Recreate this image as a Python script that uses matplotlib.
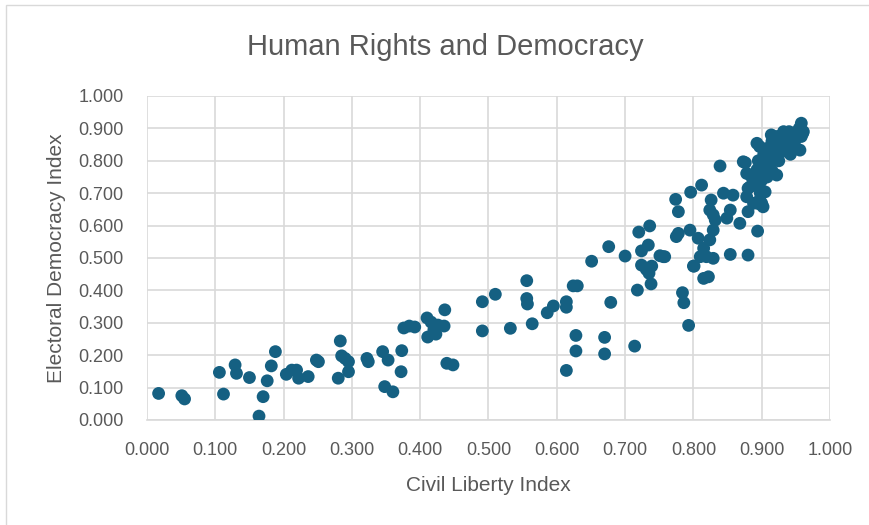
import matplotlib
matplotlib.use("Agg")
import matplotlib.pyplot as plt
from matplotlib.patches import Rectangle

# Civil liberty (x) vs electoral democracy (y)
civil_liberty = [
    0.017, 0.051, 0.055, 0.106, 0.112, 0.129, 0.131, 0.150, 0.164, 0.170,
    0.176, 0.182, 0.188, 0.204, 0.212, 0.219, 0.222, 0.236, 0.248, 0.251,
    0.283, 0.285, 0.290, 0.295, 0.295, 0.280, 0.322, 0.324, 0.345, 0.353,
    0.373, 0.372, 0.348, 0.360, 0.439, 0.448,
    0.376, 0.384, 0.392, 0.410, 0.416, 0.411, 0.420, 0.423, 0.426, 0.435, 0.436,
    0.491, 0.510, 0.491, 0.532, 0.556, 0.556, 0.557, 0.564, 0.586, 0.595,
    0.614, 0.614, 0.624, 0.630, 0.628, 0.628, 0.614, 0.670, 0.670, 0.651,
    0.676, 0.679, 0.700, 0.714, 0.718, 0.720, 0.734, 0.724, 0.736,
    0.724, 0.731, 0.739, 0.735, 0.738, 0.751, 0.758, 0.756,
    0.775, 0.784, 0.786, 0.793, 0.801, 0.815, 0.822,
    0.778, 0.795, 0.807, 0.824, 0.829, 0.815, 0.810, 0.819, 0.829, 0.800,
    0.854, 0.880, 0.894,
    0.774, 0.778, 0.796, 0.812, 0.839, 0.876, 0.826, 0.844, 0.858,
    0.824, 0.832, 0.829, 0.854, 0.849, 0.868, 0.880,
    0.878, 0.883, 0.885, 0.878, 0.893, 0.897, 0.900, 0.888, 0.873, 0.880,
    0.902, 0.897, 0.922,
    0.958, 0.961, 0.956, 0.932, 0.914, 0.893, 0.897,
    0.895, 0.900, 0.905, 0.900, 0.910, 0.912, 0.905, 0.918, 0.920, 0.925,
    0.930, 0.935, 0.928, 0.940, 0.945, 0.950, 0.952, 0.955, 0.945, 0.938,
    0.942, 0.950, 0.915, 0.922, 0.930, 0.940, 0.948, 0.958, 0.960, 0.925,
    0.915, 0.908, 0.898, 0.888, 0.892, 0.895, 0.903, 0.910, 0.935, 0.945,
    0.905, 0.895,
]
electoral_democracy = [
    0.082, 0.075, 0.065, 0.147, 0.080, 0.170, 0.144, 0.131, 0.012, 0.072,
    0.121, 0.167, 0.211, 0.141, 0.154, 0.154, 0.129, 0.134, 0.185, 0.180,
    0.244, 0.198, 0.190, 0.180, 0.149, 0.129, 0.190, 0.180, 0.211, 0.185,
    0.214, 0.149, 0.103, 0.087, 0.175, 0.170,
    0.284, 0.290, 0.287, 0.315, 0.302, 0.256, 0.278, 0.265, 0.293, 0.290, 0.340,
    0.365, 0.388, 0.275, 0.283, 0.430, 0.375, 0.358, 0.297, 0.331, 0.352,
    0.365, 0.348, 0.414, 0.414, 0.261, 0.213, 0.153, 0.255, 0.204, 0.490,
    0.535, 0.363, 0.506, 0.228, 0.401, 0.580, 0.540, 0.522, 0.599,
    0.478, 0.465, 0.475, 0.453, 0.420, 0.507, 0.504, 0.504,
    0.566, 0.393, 0.362, 0.292, 0.475, 0.437, 0.442,
    0.576, 0.586, 0.561, 0.556, 0.586, 0.530, 0.504, 0.504, 0.499, 0.475,
    0.511, 0.509, 0.583,
    0.681, 0.643, 0.703, 0.725, 0.784, 0.794, 0.679, 0.700, 0.694,
    0.648, 0.617, 0.633, 0.648, 0.623, 0.607, 0.643,
    0.689, 0.720, 0.751, 0.761, 0.772, 0.730, 0.669, 0.669, 0.797, 0.715,
    0.658, 0.679, 0.756,
    0.916, 0.890, 0.833, 0.890, 0.880, 0.854, 0.844,
    0.720, 0.740, 0.760, 0.780, 0.790, 0.810, 0.800, 0.820, 0.840, 0.830,
    0.850, 0.860, 0.870, 0.870, 0.880, 0.870, 0.890, 0.900, 0.850, 0.840,
    0.820, 0.840, 0.860, 0.875, 0.880, 0.890, 0.860, 0.875, 0.885, 0.800,
    0.770, 0.750, 0.700, 0.730, 0.760, 0.800, 0.820, 0.840, 0.830, 0.840,
    0.704, 0.668,
]

tick_values = [i / 10 for i in range(11)]
tick_labels = [f"{v:.3f}" for v in tick_values]

text_grey = "#595959"
grid_grey = "#d9d9d9"
dot_blue = "#156082"

plt.rcParams["font.family"] = ["Liberation Sans", "DejaVu Sans"]

fig = plt.figure(figsize=(8.7, 5.25), dpi=100)
ax = fig.add_axes([147 / 870, 105 / 525, 683 / 870, 324 / 525])

# light border round the chart area
fig.patches.append(Rectangle((6 / 870, -0.1), 1.2, 1.1 - 5 / 525,
                             transform=fig.transFigure, fill=False,
                             edgecolor=grid_grey, linewidth=1))

ax.scatter(civil_liberty, electoral_democracy, s=85, color=dot_blue,
           edgecolors="none", zorder=3)

ax.set_xlim(0, 1)
ax.set_ylim(0, 1)
ax.set_xticks(tick_values)
ax.set_xticklabels(tick_labels)
ax.set_yticks(tick_values)
ax.set_yticklabels(tick_labels)
ax.tick_params(length=0, labelsize=13, labelcolor=text_grey)
ax.tick_params(axis="x", pad=16)
ax.tick_params(axis="y", pad=17)
ax.grid(True, color=grid_grey, linewidth=1.2, zorder=0)
ax.set_axisbelow(True)
for side in ["top", "right", "left"]:
    ax.spines[side].set_visible(False)
ax.spines["bottom"].set_color(grid_grey)
ax.spines["bottom"].set_linewidth(1.2)

ax.set_xlabel("Civil Liberty Index", fontsize=15, color=text_grey, labelpad=12)
ax.set_ylabel("Electoral Democracy Index", fontsize=15, color=text_grey, labelpad=9)
fig.text(445 / 870, 1 - 47 / 525, "Human Rights and Democracy", fontsize=21,
         color=text_grey, ha="center", va="center")

fig.savefig("out.png", dpi=100)
